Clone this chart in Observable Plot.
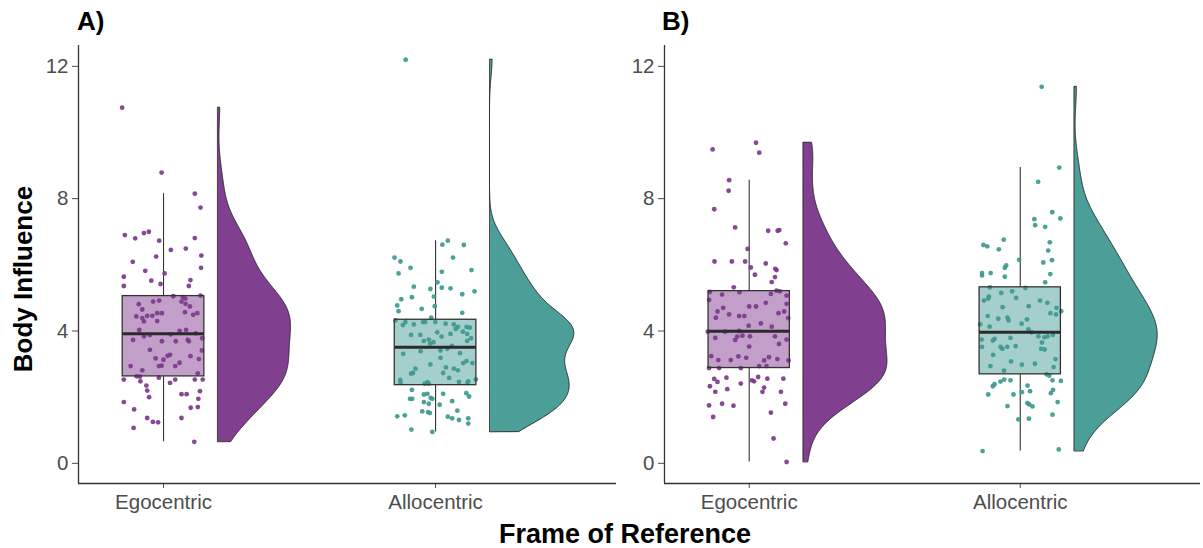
<!DOCTYPE html>
<html><head><meta charset="utf-8">
<script src="https://cdn.jsdelivr.net/npm/d3@7"></script>
<script src="https://cdn.jsdelivr.net/npm/@observablehq/plot@0.6"></script>
<style>
body{margin:0;background:#fff;font-family:"Liberation Sans",Arial,Helvetica,sans-serif;}
#wrap{position:relative;width:1203px;height:548px;overflow:hidden;background:#fff}
.abs{position:absolute;white-space:nowrap;line-height:1;font-weight:bold;color:#000}
</style></head><body>
<div id="wrap">
  <div id="panelA" style="position:absolute;left:0;top:0"></div>
  <div id="panelB" style="position:absolute;left:616px;top:0"></div>
  <div id="titleA" class="abs" style="left:77px;top:21px;font-size:26px;transform:translateY(-50%)"></div>
  <div id="titleB" class="abs" style="left:662px;top:21px;font-size:26px;transform:translateY(-50%)"></div>
  <div id="ylab" class="abs" style="left:23px;top:279px;font-size:26px;transform:translate(-50%,-50%) rotate(-90deg)"></div>
  <div id="xlab" class="abs" style="left:625px;top:534px;font-size:27px;transform:translate(-50%,-50%)"></div>
</div>
<script>
// ---------------- data ----------------
const categories = ["Egocentric", "Allocentric"];
const panelTitles = ["A)", "B)"];
const yTicks = [0, 4, 8, 12];
const yLabel = "Body Influence";
const xLabel = "Frame of Reference";

// Panel A, Egocentric: values and horizontal jitter offsets
const egoA_vals = [10.75,8.79,8.15,7.73,6.90,6.80,6.96,7.00,6.73,6.81,
  6.45,6.49,6.28,6.09,6.25,5.91,5.82,5.74,5.64,5.52,
  5.54,5.36,5.42,5.36,5.05,5.02,4.98,5.07,4.81,4.89,
  4.92,4.89,4.82,4.74,4.65,4.44,4.39,4.46,4.46,4.29,
  4.54,4.54,4.30,4.57,4.49,4.54,4.03,3.73,3.84,3.88,
  3.69,3.90,3.69,4.00,4.03,3.73,3.69,3.93,3.78,3.41,
  3.43,3.28,3.25,3.17,3.13,2.95,2.94,3.04,2.94,3.24,
  3.15,2.94,2.81,2.63,2.62,2.72,2.53,2.48,2.59,2.43,
  2.53,2.53,2.53,2.35,2.20,2.00,2.09,2.09,2.18,1.95,
  1.85,1.63,1.68,1.70,1.37,1.25,1.24,1.37,1.07,0.65];
const egoA_jit = [-0.152,-0.007,0.115,0.136,-0.142,-0.104,-0.072,-0.054,-0.016,0.115,
  0.027,0.082,0.139,-0.113,-0.027,0.138,-0.067,0.004,-0.146,-0.045,
  0.099,-0.146,-0.011,0.093,0.036,0.071,0.080,0.136,-0.091,-0.038,
  -0.016,0.066,0.081,0.097,-0.078,-0.100,-0.078,-0.060,-0.041,-0.072,
  -0.023,-0.006,-0.023,0.079,0.109,0.124,-0.089,-0.112,-0.072,-0.050,
  -0.006,0.026,0.045,0.059,0.083,0.089,0.093,0.118,0.142,0.141,
  -0.050,0.024,0.015,-0.029,0.000,-0.007,-0.017,0.059,0.043,0.099,
  0.130,-0.121,-0.078,-0.099,-0.087,0.126,-0.146,-0.085,-0.017,0.024,
  0.043,0.115,0.144,-0.063,-0.060,-0.053,0.066,0.085,0.134,0.128,
  -0.146,-0.108,0.100,0.126,-0.060,-0.039,-0.020,0.066,-0.110,0.113];

// Panel A, Allocentric
const alloA_vals = [12.2,6.73,6.61,6.60,6.22,6.10,6.22,5.91,5.74,5.79,
  5.84,5.34,5.47,5.31,5.29,5.27,5.20,4.96,5.02,5.04,
  5.11,4.77,4.60,4.67,4.75,4.55,4.32,4.27,4.20,4.27,
  4.27,4.40,4.27,4.22,4.20,4.12,4.12,4.10,3.91,3.88,
  3.74,3.66,3.96,3.83,3.91,4.06,3.31,3.39,3.41,3.46,
  3.33,2.99,2.86,2.73,2.71,2.73,2.90,2.86,2.81,3.03,
  3.09,3.03,2.54,2.43,2.41,2.41,2.46,2.43,2.22,1.95,
  1.95,2.08,2.10,1.95,1.98,2.10,1.88,2.12,2.02,1.85,
  1.80,1.57,1.55,1.52,1.77,1.59,1.42,1.45,1.41,1.36,
  1.31,1.36,1.20,1.02,0.95,3.70,3.70,3.19,4.18,3.98,
  3.88,3.78,3.62,3.55,2.52,2.48,2.45,2.58];
const alloA_jit = [-0.110,0.045,0.025,0.104,-0.151,-0.129,0.064,-0.092,-0.136,0.023,
  0.132,-0.080,0.007,0.023,0.055,-0.019,0.143,-0.126,-0.087,-0.006,
  0.098,-0.141,-0.136,-0.051,-0.003,0.098,-0.147,-0.111,-0.080,-0.046,
  -0.038,-0.016,-0.001,0.037,0.067,0.082,0.114,0.126,0.116,-0.056,
  -0.025,-0.008,0.006,0.022,0.055,0.074,-0.119,-0.055,0.018,0.043,
  0.090,-0.019,-0.074,-0.083,-0.090,0.028,0.038,0.067,0.082,0.102,
  0.114,0.135,0.148,-0.129,-0.040,-0.025,0.086,0.117,-0.087,-0.094,
  -0.086,-0.043,-0.030,-0.012,-0.018,0.028,0.061,0.113,0.123,-0.043,
  -0.025,-0.049,-0.028,-0.021,0.015,0.080,-0.141,-0.113,0.045,0.061,
  0.086,0.120,0.120,-0.089,-0.012,-0.043,0.116,0.018,-0.120,0.100,
  -0.090,0.130,-0.020,0.060,-0.130,0.120,-0.030,0.050];

// Panel B, Egocentric
const egoB_vals = [9.49,9.69,9.39,8.56,8.24,7.68,7.13,7.03,7.03,7.05,
  6.65,6.48,6.10,6.10,6.10,5.92,6.04,5.88,5.84,5.70,
  5.63,5.48,5.20,5.32,5.18,5.17,5.22,5.10,5.12,5.07,
  4.94,4.74,4.74,4.85,4.82,4.59,4.70,4.50,4.45,4.45,
  4.54,4.59,4.39,4.40,4.16,4.23,4.13,3.98,3.98,4.00,
  3.79,3.73,3.83,3.86,3.84,3.84,3.61,3.74,3.53,3.24,
  3.12,3.12,3.23,3.19,3.11,3.21,3.15,3.11,2.94,2.94,
  2.88,2.88,2.88,2.55,2.46,2.59,2.51,2.48,2.61,2.56,
  2.56,2.41,2.33,2.16,2.24,2.16,2.29,2.16,1.75,1.80,
  1.74,1.80,1.40,1.53,0.75,0.04];
const egoB_jit = [-0.135,0.025,0.037,-0.074,-0.076,-0.129,-0.052,0.070,0.105,0.111,
  0.135,-0.006,-0.128,-0.064,-0.015,0.006,0.061,0.096,0.101,0.021,
  0.095,0.083,0.113,-0.057,-0.145,-0.036,0.101,-0.100,0.080,0.138,
  -0.148,0.000,0.025,0.061,0.138,-0.117,-0.096,-0.074,-0.037,-0.018,
  0.108,0.129,0.144,-0.123,-0.002,0.043,0.083,-0.153,-0.089,-0.037,
  -0.125,-0.052,-0.044,-0.025,0.003,0.095,0.110,0.138,0.000,-0.140,
  -0.114,-0.068,-0.040,-0.011,0.055,0.073,0.104,0.145,0.037,0.064,
  -0.148,-0.111,-0.031,-0.129,-0.117,-0.084,0.010,0.018,0.033,0.067,
  0.126,-0.031,-0.145,-0.125,-0.081,0.049,0.055,0.117,-0.148,-0.100,
  -0.058,0.133,-0.133,0.080,0.090,0.138];

// Panel B, Allocentric
const alloB_vals = [11.38,8.94,8.51,7.59,7.40,7.38,7.20,7.15,6.76,6.60,
  6.56,6.47,6.68,6.43,6.15,5.98,5.91,6.07,6.14,5.75,
  5.68,5.75,5.64,5.72,5.47,5.32,5.30,4.92,5.04,4.98,
  5.15,5.00,4.92,4.72,4.75,4.70,4.54,4.50,4.60,4.37,
  4.40,4.32,4.35,4.22,4.13,4.20,3.96,3.84,3.81,3.84,
  3.88,3.74,3.71,3.76,3.79,3.52,3.52,3.46,3.52,3.54,
  3.46,3.44,2.94,3.08,2.98,3.01,2.91,2.69,2.65,2.39,
  2.33,2.47,2.53,2.51,2.35,2.51,2.49,2.08,2.08,2.15,
  2.18,2.12,2.22,1.82,1.78,1.72,1.85,1.73,1.47,1.33,
  1.35,0.37,0.42,5.20,4.85,4.45,4.05,3.65,3.28,3.15,
  2.80];
const alloB_jit = [0.079,0.144,0.066,0.118,0.148,0.052,0.055,0.092,-0.061,-0.136,
  -0.122,-0.079,0.109,0.103,-0.004,-0.052,-0.057,0.085,0.117,-0.141,
  -0.141,-0.109,-0.057,0.111,0.092,-0.112,0.019,-0.134,-0.116,-0.118,
  -0.070,-0.015,0.073,-0.065,0.031,0.134,0.111,0.132,0.151,-0.081,
  -0.047,-0.043,0.025,0.005,-0.113,-0.148,0.042,0.067,0.089,0.101,
  0.120,-0.142,-0.101,-0.095,-0.036,-0.141,-0.073,-0.066,-0.048,-0.017,
  0.077,0.090,-0.110,-0.034,0.006,0.054,0.123,0.097,0.107,-0.095,
  -0.101,-0.073,-0.059,-0.036,0.027,0.119,0.150,-0.118,-0.025,0.006,
  0.036,0.113,0.121,0.026,0.033,0.045,0.138,-0.047,0.119,-0.007,
  0.032,-0.139,0.142,-0.030,0.100,-0.120,0.030,0.080,-0.100,0.130,
  -0.060];

// ---------------- styling ----------------
const violinFill = ["#813f8f", "#4b9f98"];
const boxFill = ["#c19fc8", "#a5cfcb"];
const dotFill = ["#7d3a8c", "#3d9990"];
const FONT = "'Liberation Sans', Arial, Helvetica, sans-serif";
const xDomain = [0.6875, 2.665];
const yDomain = [-0.61, 12.63];

function kde(vals) {
  const n = vals.length;
  const sd = d3.deviation(vals);
  const iqr = d3.quantile(vals, 0.75) - d3.quantile(vals, 0.25);
  const bw = 0.9 * Math.min(sd, iqr / 1.34) * Math.pow(n, -0.2);
  const lo = d3.min(vals), hi = d3.max(vals);
  const out = [];
  for (let k = 0; k < 512; k++) {
    const y = lo + (hi - lo) * k / 511;
    let s = 0;
    for (const v of vals) { const z = (y - v) / bw; s += Math.exp(-0.5 * z * z); }
    out.push({y, d: s / (n * bw * Math.sqrt(2 * Math.PI))});
  }
  return out;
}

function boxStats(vals, pos) {
  const q1 = d3.quantile(vals, 0.25), med = d3.quantile(vals, 0.5), q3 = d3.quantile(vals, 0.75);
  const iqr = q3 - q1;
  const lo = d3.min(vals.filter(v => v >= q1 - 1.5 * iqr));
  const hi = d3.max(vals.filter(v => v <= q3 + 1.5 * iqr));
  return {pos, q1, med, q3, lo, hi};
}

function panel(groups, marginLeft, width, marginRight) {
  const boxHalf = 0.15, vBase = 0.2, vMax = 0.31;
  const dens = groups.map(g => kde(g.vals));
  const maxD = d3.max(dens, a => d3.max(a, d => d.d));
  const marks = [];
  groups.forEach((g, i) => {
    const pos = i + 1;
    const st = boxStats(g.vals, pos);
    const pts = g.vals.map((v, j) => ({x: pos + g.jit[j], y: v}));
    // half violin, to the right of the box
    marks.push(Plot.areaX(dens[i], {
      y: "y", x1: () => pos + vBase, x2: d => pos + vBase + d.d / maxD * vMax,
      fill: violinFill[i], stroke: "#2b2b2b", strokeWidth: 1, curve: "linear"
    }));
    // whiskers
    marks.push(Plot.ruleX([st], {x: "pos", y1: "lo", y2: "q1", stroke: "#333", strokeWidth: 1.1}));
    marks.push(Plot.ruleX([st], {x: "pos", y1: "q3", y2: "hi", stroke: "#333", strokeWidth: 1.1}));
    // box fill
    marks.push(Plot.rect([st], {x1: d => d.pos - boxHalf, x2: d => d.pos + boxHalf, y1: "q1", y2: "q3",
      fill: boxFill[i]}));
    // jittered points
    marks.push(Plot.dot(pts, {x: "x", y: "y", r: 2.4, fill: dotFill[i], fillOpacity: 0.92, stroke: "none"}));
    // box outline & median
    marks.push(Plot.rect([st], {x1: d => d.pos - boxHalf, x2: d => d.pos + boxHalf, y1: "q1", y2: "q3",
      fill: "none", stroke: "#333", strokeWidth: 1.3}));
    marks.push(Plot.ruleY([st], {y: "med", x1: d => d.pos - boxHalf, x2: d => d.pos + boxHalf,
      stroke: "#2b2b2b", strokeWidth: 3}));
  });
  // axis lines
  marks.push(Plot.ruleX([xDomain[0]], {stroke: "#333", strokeWidth: 1.3}));
  marks.push(Plot.ruleY([yDomain[0]], {stroke: "#333", strokeWidth: 1.3}));
  return Plot.plot({
    width, height: 548,
    marginLeft, marginRight, marginTop: 45, marginBottom: 65,
    style: {fontSize: "20.5px", fontFamily: FONT, color: "#4d4d4d", background: "transparent", overflow: "visible"},
    x: {domain: xDomain, ticks: [1, 2], tickFormat: d => categories[d - 1], tickSize: 5, tickPadding: 6, label: null},
    y: {domain: yDomain, ticks: yTicks, tickFormat: d => String(d), tickSize: 6, tickPadding: 4, label: null},
    marks
  });
}

document.getElementById("panelA").appendChild(panel([
  {vals: egoA_vals, jit: egoA_jit},
  {vals: alloA_vals, jit: alloA_jit}
], 78, 616, 0));
document.getElementById("panelB").appendChild(panel([
  {vals: egoB_vals, jit: egoB_jit},
  {vals: alloB_vals, jit: alloB_jit}
], 48, 587, 3));

document.getElementById("titleA").textContent = panelTitles[0];
document.getElementById("titleB").textContent = panelTitles[1];
document.getElementById("ylab").textContent = yLabel;
document.getElementById("xlab").textContent = xLabel;
</script>
</body></html>
